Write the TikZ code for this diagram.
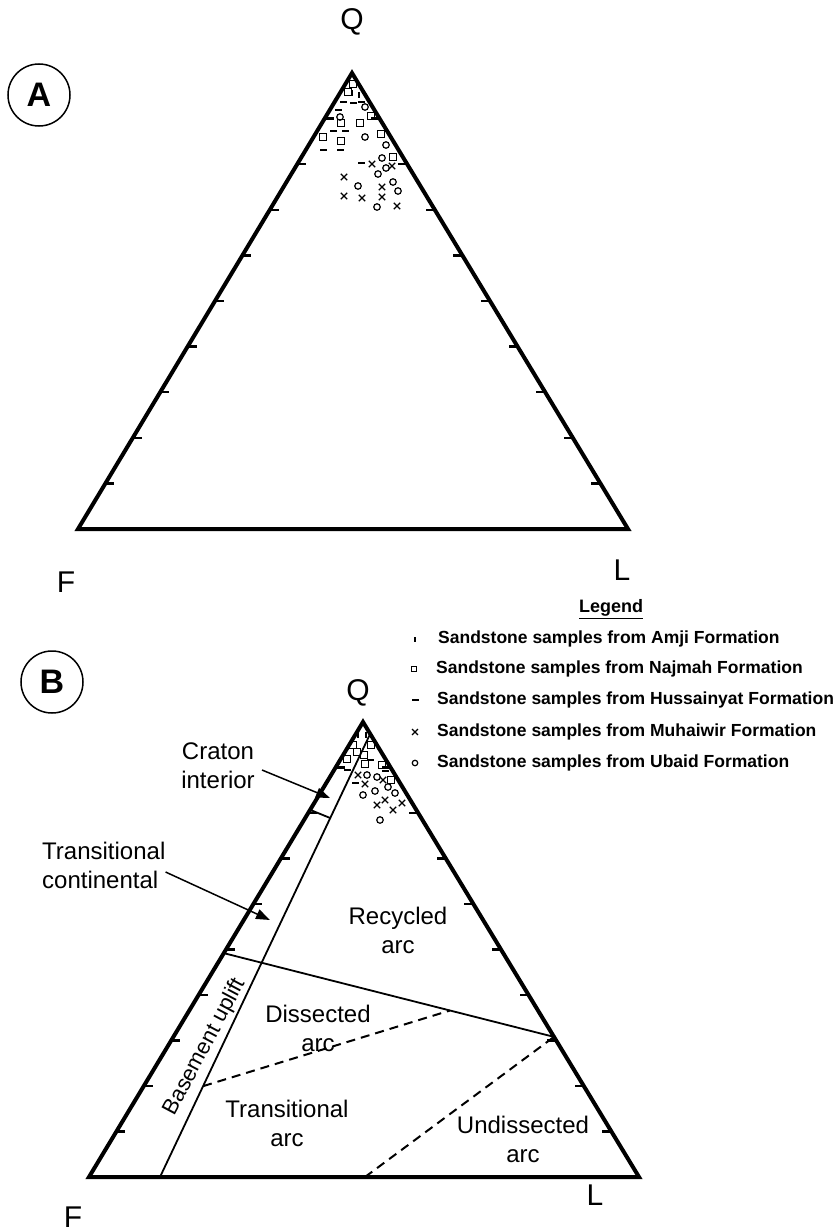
\documentclass[tikz,border=0pt]{standalone}
\usepackage{fontspec}
\setmainfont{Liberation Sans}
\usetikzlibrary{arrows.meta,shapes.misc,calc}
\begin{document}
\begin{tikzpicture}[x=1pt,y=-1pt,
  side/.style={line width=4pt, line join=miter},
  tickmark/.style={line width=2.4pt},
  thinline/.style={line width=1.8pt},
  dashline/.style={line width=2pt, dash pattern=on 9pt off 6pt},
  arrowline/.style={line width=1.5pt, -{Triangle[length=14pt,width=10pt]}},
  lbl/.style={font=\fontsize{24}{29}\selectfont, align=center, inner sep=0pt},
  vlbl/.style={font=\fontsize{30}{36}\selectfont, inner sep=0pt},
  circlbl/.style={circle, draw, line width=1.5pt, minimum size=62pt, inner sep=0pt, font=\bfseries\fontsize{34}{40}\selectfont},
  legtext/.style={anchor=west, inner sep=0pt, font=\bfseries\fontsize{17.5}{21}\selectfont},
  ptO/.style={circle, draw, inner sep=0pt, minimum size=6.5pt, line width=1.2pt},
  ptS/.style={rectangle, draw, inner sep=0pt, minimum size=6.5pt, line width=1.2pt},
  ptX/.style={cross out, draw, inner sep=0pt, minimum size=5pt, line width=1.3pt},
  ptH/.style={rectangle, fill, inner sep=0pt, minimum width=7pt, minimum height=1.6pt},
  ptV/.style={rectangle, fill, inner sep=0pt, minimum width=1.6pt, minimum height=6pt}]
\useasboundingbox (0,0) rectangle (839,1228);

% ---------------- Triangle A ----------------
\coordinate (QA) at (352,73);
\coordinate (FA) at (78,529);
\coordinate (LA) at (628,529);
\draw[side] (QA) -- (FA) -- (LA) -- cycle;
\foreach \k in {1,...,9} {
  \draw[tickmark] ($(QA)!\k/10!(FA)$) -- ++(9,0);
  \draw[tickmark] ($(QA)!\k/10!(LA)$) -- ++(-9,0);
}
\node[circlbl] (circA) at (39,95) {A};
\node[vlbl] (labQA) at (352,22) {Q};
\node[vlbl] (labFA) at (66,582) {F};
\node[vlbl] (labLA) at (622,570) {L};

% data points A
\foreach \x/\y [count=\i] in {352/93,359/95}
  \node[ptV] (aV\i) at (\x,\y) {};
\foreach \x/\y [count=\i] in {343/102,353/103,361/102,338/110,333/131,345/131,323/150,340/150,361/163}
  \node[ptH] (aH\i) at (\x,\y) {};
\foreach \x/\y [count=\i] in {353/84,348/92,341/123,360/123,371/116,323/137,341/141,381/134,393/157}
  \node[ptS] (aS\i) at (\x,\y) {};
\foreach \x/\y [count=\i] in {365/107,340/117,365/137,386/145,382/158,386/168,378/174,358/186,393/182,398/191,377/207}
  \node[ptO] (aO\i) at (\x,\y) {};
\foreach \x/\y [count=\i] in {372/164,392/166,344/177,382/187,344/196,362/198,382/197,397/206}
  \node[ptX] (aX\i) at (\x,\y) {};

% ---------------- Legend ----------------
\node[font=\bfseries\fontsize{18}{22}\selectfont, inner sep=0pt] (legend) at (611,609) {\underline{Legend}};
\node[legtext] (lg1) at (438,639) {Sandstone samples from Amji Formation};
\node[legtext] (lg2) at (436,669) {Sandstone samples from Najmah Formation};
\node[legtext] (lg3) at (437,700) {Sandstone samples from Hussainyat Formation};
\node[legtext] (lg4) at (437,732) {Sandstone samples from Muhaiwir Formation};
\node[legtext] (lg5) at (437,763) {Sandstone samples from Ubaid Formation};
\node[ptV, minimum height=5pt] (sy1) at (415,639) {};
\node[ptS, minimum size=5.5pt] (sy2) at (414,669) {};
\node[ptH] (sy3) at (415,700) {};
\node[ptX, minimum size=4.5pt] (sy4) at (415,732) {};
\node[ptO, minimum size=5.5pt] (sy5) at (415,763) {};

% ---------------- Triangle B ----------------
\coordinate (QB) at (363,722);
\coordinate (FB) at (89,1177);
\coordinate (LB) at (639,1177);
\node[circlbl] (circB) at (52,682) {B};
\node[vlbl] (labQB) at (358,693) {Q};
\node[vlbl] (labFB) at (73,1217) {F};
\node[vlbl] (labLB) at (595,1195) {L};

% field boundaries
\coordinate (IB) at (160,1177);
\coordinate (IT) at ($(QB)!0.026!(LB)$);
\draw[thinline] (IB) -- (IT);
\coordinate (CL) at ($(QB)!0.193!(FB)$);
\coordinate (CR) at ($(IB)!0.81!(IT)$);
\draw[thinline] (CL) -- (CR);
\coordinate (LM) at ($(QB)!0.508!(FB)$);
\coordinate (RM) at ($(QB)!0.692!(LB)$);
\draw[thinline] (LM) -- (RM);
\coordinate (D1a) at ($(IB)!0.205!(IT)$);
\coordinate (D1b) at ($(LM)!0.685!(RM)$);
\draw[dashline] (D1a) -- (D1b);
\coordinate (D2a) at (365,1177);
\draw[dashline] (D2a) -- (RM);

\draw[side] (QB) -- (FB) -- (LB) -- cycle;
\foreach \k in {1,...,9} {
  \draw[tickmark] ($(QB)!\k/10!(FB)$) -- ++(9,0);
  \draw[tickmark] ($(QB)!\k/10!(LB)$) -- ++(-9,0);
}

% labels B
\node[lbl] (craton) at (218,766) {Craton\\interior};
\coordinate (cratonTip) at (330,798);
\draw[arrowline] (262,770) -- (cratonTip);
\node[lbl, align=left, anchor=west] (transcont) at (42,865) {Transitional\\continental};
\coordinate (transTip) at (270,920);
\draw[arrowline] (transcont.east |- 0,872) -- (transTip);
\node[lbl] (recyc) at (398,930) {Recycled\\arc};
\node[lbl] (dissec) at (318,1028) {Dissected\\arc};
\node[lbl] (transarc) at (287,1123) {Transitional\\arc};
\node[lbl] (undiss) at (523,1139) {Undissected\\arc};
\node[inner sep=0pt, rotate=62, font=\fontsize{22}{27}\selectfont] (basement) at (205,1047) {Basement uplift};

% data points B
\foreach \x/\y [count=\i] in {358/735,366/735}
  \node[ptV] (bV\i) at (\x,\y) {};
\foreach \x/\y [count=\i] in {347/770,370/760,385/771,355/783}
  \node[ptH] (bH\i) at (\x,\y) {};
\foreach \x/\y [count=\i] in {353/745,371/745,347/759,357/752,364/755,365/764,382/765,391/780}
  \node[ptS] (bS\i) at (\x,\y) {};
\foreach \x/\y [count=\i] in {367/775,377/777,363/795,375/791,388/787,395/793,380/820}
  \node[ptO] (bO\i) at (\x,\y) {};
\foreach \x/\y [count=\i] in {358/775,365/784,383/780,377/805,385/800,393/810,402/803}
  \node[ptX] (bX\i) at (\x,\y) {};
\end{tikzpicture}
\end{document}
